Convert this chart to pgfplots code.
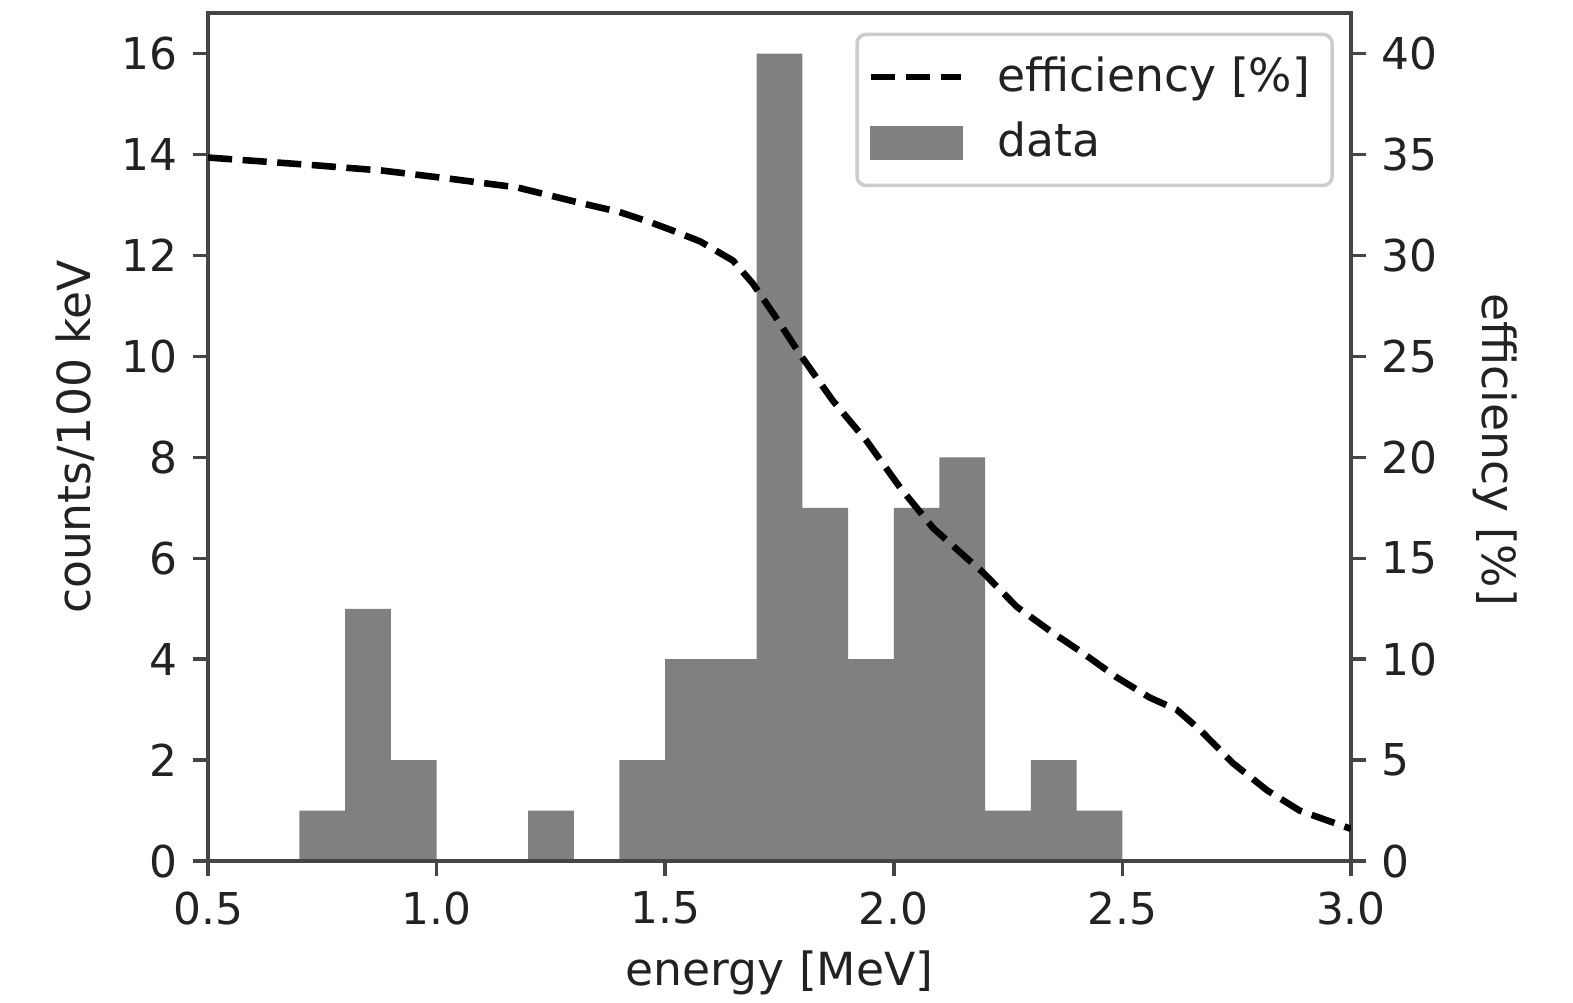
\documentclass[border=0pt]{standalone}
\usepackage{pgfplots}
\pgfplotsset{compat=1.18}
\usepackage{fontspec}
\setmainfont{DejaVu Sans}
\definecolor{spine}{HTML}{454545}
\definecolor{txt}{HTML}{222222}
\definecolor{barc}{HTML}{808080}
\definecolor{legframe}{HTML}{CCCCCC}
\begin{document}
\begin{tikzpicture}
\pgfplotsset{
  common/.style={
    scale only axis, width=260.4pt, height=193.2pt,
    xmin=0.5, xmax=3.0,
    axis line style={spine, line width=0.8pt},
    tick style={spine, line width=0.8pt},
    major tick length=3.5pt,
    tick align=outside,
    /pgf/number format/assume math mode=true,
    ticklabel style={font=\fontsize{10}{12}\selectfont, text=txt},
    label style={font=\fontsize{10.4}{12.5}\selectfont, text=txt},
  }
}
\begin{axis}[common, name=ax,
  axis on top,
  ymin=0, ymax=16.8,
  ytick={0,2,4,6,8,10,12,14,16},
  xtick={0.5,1.0,1.5,2.0,2.5,3.0},
  xticklabel style={/pgf/number format/.cd, fixed, fixed zerofill, precision=1},
  xtick pos=bottom, ytick pos=left,
  xlabel={energy [MeV]},
  ylabel={counts/100 keV},
  xlabel style={at={(axis description cs:0.5,-0.132)}, anchor=center},
  ylabel style={at={(axis description cs:-0.1164,0.5)}, anchor=center},
]
\addplot[ybar interval, fill=barc, draw=none] coordinates {
(0.7,1) (0.8,5) (0.9,2) (1.0,0) (1.1,0) (1.2,1) (1.3,0) (1.4,2) (1.5,4)
(1.6,4) (1.7,16) (1.8,7) (1.9,4) (2.0,7) (2.1,8) (2.2,1) (2.3,2) (2.4,1) (2.5,0)
};
\end{axis}
\begin{axis}[common,
  ymin=0, ymax=42,
  axis y line*=right, axis x line=none,
  ytick={0,5,10,15,20,25,30,35,40},
  ylabel={efficiency [\%]},
  ylabel style={at={(axis description cs:1.126,0.485)}, anchor=center, rotate=180},
  legend cell align=left,
  legend style={at={(rel axis cs:0.985,0.977)}, anchor=north east,
    draw=legframe, line width=0.8pt, rounded corners=2pt, fill=white, text=txt,
    font=\fontsize{10.4}{12.5}\selectfont, inner xsep=2.5pt, inner ysep=2.5pt, row sep=0.6pt,
    nodes={inner sep=2.5pt},
    /tikz/every odd column/.append style={column sep=5pt}},
  legend image code/.code={\draw[#1, sharp corners] (0pt,0pt) -- (20.5pt,0pt);},
]
\addplot[black, line width=1.5pt, dash pattern=on 5.5pt off 2.4pt] coordinates {
(0.5,34.85) (0.592,34.7) (0.738,34.46) (0.883,34.2) (1.029,33.8) (1.176,33.37)
(1.32,32.57) (1.40,32.15) (1.467,31.65) (1.52,31.2) (1.576,30.7) (1.648,29.75) (1.692,28.6)
(1.74,27.0) (1.795,25.1) (1.867,22.8) (1.941,20.8) (2.014,18.5) (2.086,16.5)
(2.16,15.0) (2.195,14.3) (2.269,12.6) (2.342,11.4) (2.414,10.3) (2.488,9.1)
(2.56,8.1) (2.619,7.5) (2.67,6.5) (2.742,4.85) (2.817,3.5) (2.888,2.5) (3.0,1.6)
};
\addlegendentry{efficiency [\%]}
\addlegendimage{legend image code/.code={\fill[barc, sharp corners] (0pt,-3.5pt) rectangle (20.5pt,3.5pt);}}
\addlegendentry{data}
\end{axis}
\pgfresetboundingbox
\path[use as bounding box] ([xshift=-47.4pt,yshift=-32.1pt]ax.south west) rectangle ([xshift=50.6pt,yshift=3pt]ax.north east);
\end{tikzpicture}
\end{document}
